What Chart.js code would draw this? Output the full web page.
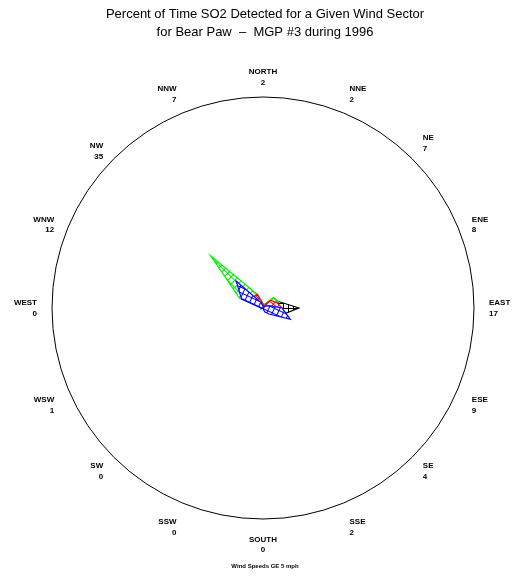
<!DOCTYPE html>
<html>
<head>
<meta charset="utf-8">
<script src="https://cdn.jsdelivr.net/npm/chart.js@4.4.1/dist/chart.umd.min.js"></script>
<style>
html,body{margin:0;padding:0;background:#ffffff;}
#c{display:block;}
</style>
</head>
<body>
<canvas id="c" width="520" height="580"></canvas>
<script>
// ---- data ----
const directions = ['NORTH','NNE','NE','ENE','EAST','ESE','SE','SSE','SOUTH','SSW','SW','WSW','WEST','WNW','NW','NNW'];
const sectorPercent = [2,2,7,8,17,9,4,2,0,0,0,1,0,12,35,7];
const blueSeries  = [1,0,1,3,9,14,4,2,0,0,0,1,1,11,18,3];
const redSeries   = [2,1,5,7,9,4,2,1,0,0,0,0,0,2,7,7];
const greenSeries = [2,2,7,8,5,2,1,0,0,0,0,0,0,12,35,7];
const blackSeries = [0,0,0,8,17,9,0,0,0,0,0,0,0,0,0,0];
const titleLines = ['Percent of Time SO2 Detected for a Given Wind Sector','for Bear Paw  \u2013  MGP #3 during 1996'];
const footnote = 'Wind Speeds GE 5 mph';

// ---- layout / style ----
const CX = 263, CY = 308, R = 211, LABEL_PAD = 15;
// per-label vertical nudge (style only), same order as directions
const labelNudgeY = [6,6,6,14,0,0,-7,0,0,0,-7,0,0,14,14,6];
const canvas = document.getElementById('c');
const ctx = canvas.getContext('2d');

function hatch(color, angleDeg, cell) {
  const c = document.createElement('canvas');
  c.width = cell; c.height = cell;
  const g = c.getContext('2d');
  g.fillStyle = '#ffffff'; g.fillRect(0, 0, cell, cell);
  g.fillStyle = color; g.fillRect(0, 0, cell, 1); g.fillRect(0, 0, 1, cell);
  const p = ctx.createPattern(c, 'repeat');
  if (p.setTransform && typeof DOMMatrix !== 'undefined') {
    p.setTransform(new DOMMatrix().translate(CX, CY).rotate(angleDeg || 0));
  }
  return p;
}

function ds(label, data, color, ang) {
  return {
    label, data,
    borderColor: color,
    backgroundColor: hatch(color, ang, 5),
    borderWidth: 1.2,
    pointRadius: 0,
    pointHoverRadius: 0,
    fill: true,
    tension: 0
  };
}

new Chart(ctx, {
  type: 'radar',
  data: {
    labels: directions,
    datasets: [
      ds('blue', blueSeries, '#0000ff', 25),
      ds('red', redSeries, '#ff0000', 40),
      ds('green', greenSeries, '#00ee00', 45),
      ds('black', blackSeries, '#000000', 0)
    ]
  },
  options: {
    responsive: false,
    animation: false,
    devicePixelRatio: 1,
    layout: { padding: { left: 10, right: 0, top: 0, bottom: 0 } },
    plugins: {
      legend: { display: false },
      tooltip: { enabled: false },
      title: {
        display: true,
        text: titleLines,
        color: '#000',
        font: { family: '"Liberation Sans", Arial, sans-serif', size: 13, weight: 'normal', lineHeight: 18/13 },
        padding: { top: 5, bottom: 4 }
      },
      subtitle: {
        display: true,
        position: 'bottom',
        text: footnote,
        color: '#000',
        font: { family: '"Liberation Sans", Arial, sans-serif', size: 6, weight: 'bold', lineHeight: 1.2 },
        padding: { top: 0, bottom: 10 }
      }
    },
    scales: {
      r: {
        min: 0,
        max: 100,
        ticks: { display: false, stepSize: 100 },
        grid: { circular: true, color: '#000', lineWidth: 1 },
        angleLines: { display: false },
        pointLabels: {
          display: true,
          color: '#000',
          padding: LABEL_PAD,
          font: { family: '"Liberation Sans", Arial, sans-serif', size: 8, weight: 'bold', lineHeight: 1.35 },
          callback: (label, i) => [label, String(sectorPercent[i])]
        },
        afterFit: (s) => {
          const items = s._pointLabelItems || [];
          const before = [];
          for (let i = 0; i < items.length; i++) before.push(s.getPointPosition(i, s.drawingArea + LABEL_PAD));
          s.xCenter = CX; s.yCenter = CY; s.drawingArea = R;
          for (let i = 0; i < items.length; i++) {
            const p = s.getPointPosition(i, R + LABEL_PAD);
            const dx = p.x - before[i].x;
            const dy = p.y - before[i].y + (labelNudgeY[i] || 0);
            const it = items[i];
            it.x += dx; it.left += dx; it.right += dx;
            it.y += dy; it.top += dy; it.bottom += dy;
          }
        }
      }
    }
  }
});
</script>
</body>
</html>
